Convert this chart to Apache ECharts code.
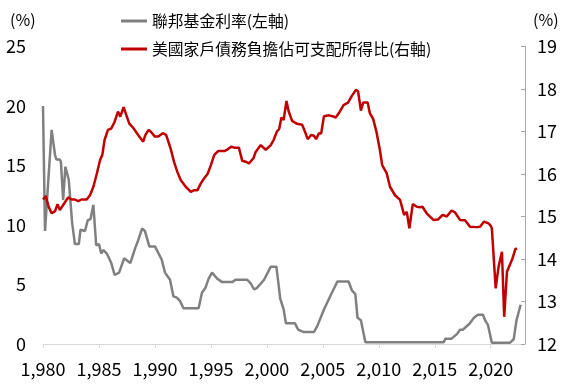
<!DOCTYPE html>
<html><head><meta charset="utf-8">
<script src="https://cdn.jsdelivr.net/npm/echarts@6/dist/echarts.min.js"></script>
<style>html,body{margin:0;padding:0;background:#fff}#c{width:575px;height:384px}</style>
</head><body><div id="c"></div>
<script>
const xTicks = [1980, 1985, 1990, 1995, 2000, 2005, 2010, 2015, 2020];
const fedName = '聯邦基金利率(左軸)';
const dsrName = '美國家戶債務負擔佔可支配所得比(右軸)';
const fedT = [1980.0,1980.18,1980.77,1981.07,1981.2,1981.5,1981.6,1981.8,1982.0,1982.3,1982.6,1982.85,1983.2,1983.35,1983.75,1984.0,1984.25,1984.5,1984.75,1985.0,1985.2,1985.4,1985.7,1986.1,1986.4,1986.8,1987.25,1987.8,1988.25,1988.5,1988.85,1989.1,1989.5,1990.0,1990.15,1990.6,1990.9,1991.35,1991.65,1991.95,1992.25,1992.55,1993.9,1994.2,1994.5,1994.8,1995.1,1995.55,1996.0,1996.9,1997.2,1998.25,1998.55,1998.85,1999.1,1999.75,2000.35,2000.85,2001.2,2001.5,2001.7,2002.5,2002.8,2003.3,2004.2,2004.5,2005.1,2005.7,2006.3,2007.3,2007.6,2007.9,2008.1,2008.4,2008.8,2015.8,2015.95,2016.5,2017.0,2017.25,2017.5,2018.1,2018.5,2018.85,2019.3,2019.55,2019.75,2020.1,2021.7,2022.05,2022.3,2022.67];
const fedV = [20,9.5,18,15.9,15.5,15.5,15.3,12.1,14.9,13.8,10.2,8.4,8.4,9.6,9.5,10.4,10.5,11.7,8.3,8.4,7.6,7.9,7.6,6.8,5.8,6.0,7.2,6.8,8.1,8.7,9.7,9.5,8.2,8.2,8.2,7.1,6.0,5.4,4.0,3.9,3.6,3.0,3.0,4.3,4.7,5.5,6.0,5.5,5.2,5.2,5.4,5.4,5.1,4.6,4.7,5.4,6.5,6.5,3.8,2.9,1.75,1.75,1.2,1.0,1.0,1.5,2.9,4.1,5.25,5.25,4.5,4.2,2.2,2.0,0.15,0.15,0.45,0.45,0.85,1.2,1.2,1.7,2.2,2.45,2.45,1.9,1.6,0.1,0.1,0.4,2.0,3.3];
const dsrT = [1980.0,1980.25,1980.5,1980.77,1981.07,1981.3,1981.5,1981.8,1982.25,1982.55,1982.85,1983.15,1983.45,1983.9,1984.2,1984.5,1984.8,1985.1,1985.3,1985.5,1985.8,1986.1,1986.4,1986.7,1986.9,1987.2,1987.4,1987.7,1988.1,1988.6,1988.95,1989.15,1989.45,1989.75,1990.0,1990.3,1990.7,1991.0,1991.4,1991.7,1992.0,1992.3,1992.75,1993.2,1993.5,1993.8,1994.1,1994.4,1994.7,1995.0,1995.3,1995.65,1996.2,1996.5,1996.8,1997.1,1997.5,1997.8,1998.1,1998.4,1998.8,1999.0,1999.45,1999.9,2000.35,2000.6,2000.9,2001.1,2001.3,2001.5,2001.75,2001.95,2002.25,2002.7,2003.15,2003.4,2003.65,2003.95,2004.2,2004.4,2004.65,2004.85,2005.1,2005.55,2005.85,2006.15,2006.45,2006.85,2007.25,2007.55,2007.95,2008.15,2008.4,2008.6,2009.0,2009.2,2009.5,2009.8,2010.1,2010.3,2010.7,2011.0,2011.45,2011.9,2012.26,2012.5,2012.73,2013.03,2013.4,2013.7,2013.9,2014.29,2014.88,2015.3,2015.7,2016.07,2016.5,2016.8,2017.25,2017.7,2018.15,2018.75,2019.05,2019.4,2019.8,2020.0,2020.1,2020.44,2020.7,2021.0,2021.2,2021.45,2021.7,2021.9,2022.2,2022.35];
const dsrV = [15.40,15.48,15.23,15.08,15.12,15.29,15.15,15.27,15.45,15.40,15.40,15.36,15.40,15.40,15.50,15.70,16.00,16.33,16.45,16.80,17.04,17.07,17.23,17.47,17.35,17.57,17.42,17.19,17.07,16.88,16.76,16.92,17.04,16.96,16.88,16.88,16.96,16.92,16.60,16.29,16.05,15.86,15.70,15.58,15.62,15.62,15.78,15.90,16.00,16.21,16.45,16.54,16.54,16.58,16.64,16.62,16.62,16.31,16.29,16.25,16.37,16.52,16.68,16.57,16.68,16.80,17.00,17.06,17.33,17.27,17.72,17.47,17.25,17.18,17.16,17.00,16.82,16.92,16.90,16.82,16.96,16.95,17.36,17.38,17.36,17.33,17.44,17.62,17.68,17.82,17.98,17.94,17.49,17.68,17.68,17.43,17.29,16.98,16.56,16.21,16.02,15.70,15.50,15.39,15.04,15.11,14.72,15.29,15.23,15.22,15.23,15.07,14.92,14.93,15.04,15.00,15.14,15.10,14.92,14.91,14.76,14.75,14.76,14.88,14.84,14.78,14.72,13.31,13.82,14.17,12.64,13.70,13.86,13.98,14.23,14.25];

const zip = (t, v) => t.map((x, i) => [x, v[i]]);
const fontNum = 'Noto Sans CJK TC, sans-serif';
const fontCJK = 'Noto Sans CJK TC, sans-serif';

const chart = echarts.init(document.getElementById('c'), null, {renderer: 'canvas'});
chart.setOption({
  animation: false,
  backgroundColor: '#fff',
  grid: {left: 43, right: 50, top: 46.5, bottom: 40},
  legend: {
    orient: 'vertical', left: 116, top: 8,
    itemWidth: 26, itemHeight: 3, itemGap: 12, icon: 'rect',
    textStyle: {fontFamily: fontCJK, fontSize: 15.8, color: '#000', lineHeight: 16},
    data: [fedName, dsrName]
  },
  graphic: [
    {type: 'text', left: 10, top: 12, style: {text: '(%)', font: '16px ' + fontNum, fill: '#000'}},
    {type: 'text', left: 533, top: 12, style: {text: '(%)', font: '16px ' + fontNum, fill: '#000'}}
  ],
  xAxis: {
    type: 'value', min: 1980, max: 2023.06, interval: 5,
    axisLine: {show: true, lineStyle: {color: '#d9d9d9', width: 1}},
    axisTick: {show: true, length: 4, lineStyle: {color: '#d9d9d9'}, customValues: xTicks},
    axisLabel: {customValues: xTicks, color: '#000', fontSize: 18, fontFamily: fontNum, margin: 16},
    splitLine: {show: false}
  },
  yAxis: [
    {
      type: 'value', min: 0, max: 25, interval: 5, position: 'left',
      axisLine: {show: false}, axisTick: {show: false},
      axisLabel: {color: '#000', fontSize: 18, fontFamily: fontNum, margin: 17},
      splitLine: {show: false}
    },
    {
      type: 'value', min: 12, max: 19, interval: 1, position: 'right',
      axisLine: {show: true, lineStyle: {color: '#a6a6a6', width: 1}},
      axisTick: {show: true, inside: true, length: 4, lineStyle: {color: '#a6a6a6'}},
      axisLabel: {color: '#000', fontSize: 18, fontFamily: fontNum, margin: 12},
      splitLine: {show: false}
    }
  ],
  series: [
    {
      name: fedName, type: 'line', yAxisIndex: 0, data: zip(fedT, fedV),
      showSymbol: false, symbol: 'none', color: '#808080',
      lineStyle: {color: '#808080', width: 2.5}
    },
    {
      name: dsrName, type: 'line', yAxisIndex: 1, data: zip(dsrT, dsrV),
      showSymbol: false, symbol: 'none', color: '#c00000',
      lineStyle: {color: '#c00000', width: 2.5}
    }
  ]
});
</script></body></html>
